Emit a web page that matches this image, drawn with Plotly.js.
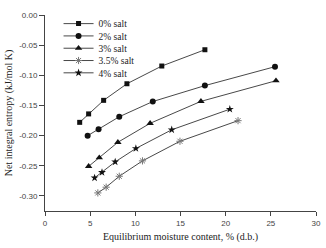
<!DOCTYPE html>
<html><head><meta charset="utf-8">
<script src="https://cdn.plot.ly/plotly-3.0.1.min.js"></script>
<style>html,body{margin:0;padding:0;background:#fff}#c{width:326px;height:248px}</style>
</head><body><div id="c"></div>
<script>
const seriesNames = ["0% salt","2% salt","3% salt","3.5% salt","4% salt"];
const x0 = [3.84, 4.83, 6.49, 9.07, 12.93, 17.70];
const y0 = [-0.178, -0.164, -0.1415, -0.114, -0.0846, -0.0576];
const x2 = [4.72, 5.93, 8.22, 11.93, 17.70, 25.46];
const y2 = [-0.2001, -0.1894, -0.1687, -0.1435, -0.1171, -0.0857];
const x3 = [4.83, 6.01, 8.07, 11.64, 17.26, 25.57];
const y3 = [-0.251, -0.2365, -0.211, -0.1796, -0.1432, -0.109];
const x35 = [5.85, 6.77, 8.22, 10.79, 14.94, 21.37];
const y35 = [-0.295, -0.2855, -0.2674, -0.2419, -0.2094, -0.1752];
const x4 = [5.49, 6.31, 7.77, 10.06, 14.03, 20.46];
const y4 = [-0.270, -0.261, -0.2435, -0.2213, -0.1903, -0.1562];
const yTicks = [0, -0.05, -0.10, -0.15, -0.20, -0.25, -0.30];
const xTicks = [0, 5, 10, 15, 20, 25, 30];

const xs = [x0, x2, x3, x35, x4];
const ys = [y0, y2, y3, y35, y4];
const symbols = ["square", "circle", "triangle-up", "asterisk-open", "star"];
const sizes = [5, 6, 6.5, 6, 6];
const mcolors = ["#111", "#111", "#111", "#777", "#111"];

const traces = xs.map((x, i) => ({
  x: x, y: ys[i], name: seriesNames[i], type: "scatter", mode: "lines+markers",
  line: {color: "#333", width: 0.9},
  marker: {symbol: symbols[i], size: sizes[i], color: mcolors[i],
           line: {color: mcolors[i], width: i === 3 ? 1 : 0}}
}));

const layout = {
  width: 326, height: 248,
  margin: {l: 44.5, r: 9.5, t: 11.3, b: 36.7},
  paper_bgcolor: "#fff", plot_bgcolor: "#fff",
  showlegend: true,
  legend: {x: 0.05, y: 1.03, xanchor: "left", yanchor: "top",
           font: {family: "Liberation Serif, serif", size: 9.5, color: "#222"},
           bgcolor: "rgba(0,0,0,0)", tracegroupgap: 0, itemwidth: 30},
  xaxis: {range: [0, 30], tickvals: xTicks, ticktext: xTicks.map(String),
          showgrid: false, zeroline: false, showline: true, linecolor: "#444", linewidth: 1,
          ticks: "outside", ticklen: 4, tickcolor: "#444",
          tickfont: {family: "Liberation Sans, Arial, sans-serif", size: 8, color: "#444"},
          title: {text: "Equilibrium moisture content, % (d.b.)", standoff: 6,
                  font: {family: "Liberation Serif, serif", size: 10, color: "#222"}}},
  yaxis: {range: [-0.325, 0], tickvals: yTicks, ticktext: yTicks.map(v => v.toFixed(2)),
          showgrid: false, zeroline: false, showline: true, linecolor: "#444", linewidth: 1,
          ticks: "outside", ticklen: 5, tickcolor: "#444",
          tickfont: {family: "Liberation Sans, Arial, sans-serif", size: 8, color: "#444"},
          title: {text: "Net integral entropy (kJ/mol K)", standoff: 4,
                  font: {family: "Liberation Serif, serif", size: 10, color: "#222"}}}
};
Plotly.newPlot("c", traces, layout, {displayModeBar: false, staticPlot: true}).then(() => {
  // tighten legend row spacing to match the reference
  const items = document.querySelectorAll("#c .legend .traces");
  if (!items.length) return;
  const m = /translate\(\s*([-\d.]+)[ ,]+([-\d.]+)/.exec(items[0].getAttribute("transform") || "");
  const x = m ? parseFloat(m[1]) : 0;
  const y = m ? parseFloat(m[2]) : 0;
  items.forEach((el, i) => el.setAttribute("transform", `translate(${x},${y + i * 12.3})`));
});
</script></body></html>
